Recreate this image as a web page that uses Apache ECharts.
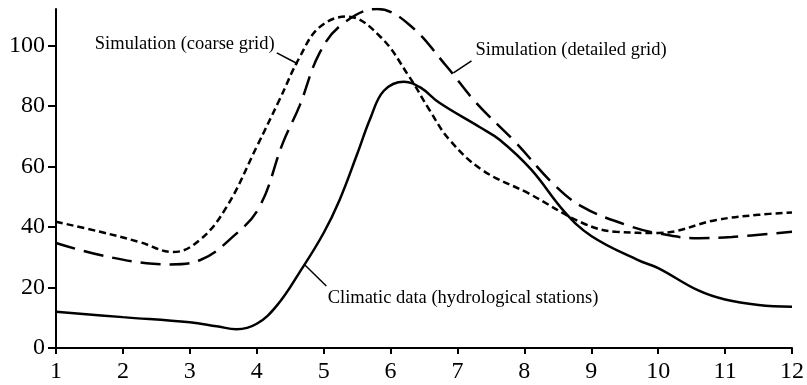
<!DOCTYPE html>
<html>
<head>
<meta charset="utf-8">
<script src="https://cdn.jsdelivr.net/npm/echarts@6/dist/echarts.min.js"></script>
<style>
  html, body { margin: 0; padding: 0; background: #fff; }
  #chart { width: 807px; height: 385px; }
</style>
</head>
<body>
<div id="chart"></div>
<script>
// tick values
const xTicks = [1, 2, 3, 4, 5, 6, 7, 8, 9, 10, 11, 12];
const yTicks = [0, 20, 40, 60, 80, 100];

// [month, value]
const climaticData = [
  [1, 12], [2, 10.2], [3, 8.5], [3.4, 7.2], [3.7, 6.2], [4, 8], [4.3, 14],
  [4.64, 25], [5, 38], [5.24, 49], [5.5, 64], [5.7, 76], [5.9, 85], [6.2, 88],
  [6.45, 86], [6.73, 81], [7.33, 73], [7.63, 68.8], [8.1, 59], [8.6, 45], [9, 37],
  [9.7, 29], [10, 26.4], [10.6, 19], [11, 16], [11.5, 14.2], [12, 13.6]
];
const coarseData = [
  [1, 41.7], [1.66, 38.4], [2.25, 35], [2.75, 31.7], [3.15, 35.7], [3.55, 46.6],
  [4, 66.5], [4.34, 82], [4.64, 96], [4.94, 106], [5.35, 109.5], [5.84, 103],
  [6.28, 89.6], [6.58, 78.7], [6.88, 68.8], [7.37, 58.8], [8.07, 51], [8.87, 41.3],
  [9.37, 38.4], [10, 38], [10.87, 42.3], [11.5, 44], [12, 44.8]
];
const detailedData = [
  [1, 34.7], [1.66, 30.7], [2.45, 27.8], [2.7, 27.6], [3.15, 29], [3.64, 36.7],
  [4.04, 46.6], [4.39, 67.7], [4.64, 80], [4.94, 97.5], [5.28, 107], [5.8, 112],
  [6.28, 106.8], [6.84, 93], [7.28, 81], [7.88, 67.7], [8.42, 54.5], [8.87, 46.6],
  [9.52, 40.7], [9.97, 38], [10.6, 36.3], [11.1, 36.7], [12, 38.4]
];

// labels: text anchor, leader start, leader end (data coords)
const labelNames = [
  "Simulation (coarse grid)",
  "Simulation (detailed grid)",
  "Climatic data (hydrological stations)"
];
const labelAt = [[1.58, 100.5], [7.27, 98.5], [5.06, 16.5]];
const leaderFrom = [[4.30, 97.5], [7.21, 94.9], [5.04, 20.5]];
const leaderTo = [[4.61, 93.9], [6.94, 90.9], [4.72, 27.4]];

const font = "'Liberation Serif', 'Times New Roman', serif";
const chart = echarts.init(document.getElementById("chart"));

const option = {
  animation: false,
  backgroundColor: "#fff",
  grid: { left: 56, right: 14, top: 9, bottom: 37 },
  xAxis: {
    type: "value",
    min: 1,
    max: 12,
    interval: 1,
    splitLine: { show: false },
    axisLine: { lineStyle: { color: "#000", width: 2 } },
    axisTick: { length: 6, lineStyle: { color: "#000", width: 2 } },
    axisLabel: {
      color: "#000", fontFamily: font, fontSize: 24, margin: 12,
      customValues: xTicks
    }
  },
  yAxis: {
    type: "value",
    min: 0,
    max: 112,
    interval: 20,
    splitLine: { show: false },
    axisLine: { show: true, lineStyle: { color: "#000", width: 2 } },
    axisTick: {
      show: true, length: 8, lineStyle: { color: "#000", width: 2 },
      customValues: yTicks
    },
    axisLabel: {
      color: "#000", fontFamily: font, fontSize: 24, margin: 11,
      customValues: yTicks
    }
  },
  series: [
    {
      name: "Climatic data", type: "line", data: climaticData,
      smooth: 0.4, symbol: "none",
      lineStyle: { color: "#000", width: 2.5 }
    },
    {
      name: "Coarse grid", type: "line", data: coarseData,
      smooth: 0.4, symbol: "none",
      lineStyle: { color: "#000", width: 2.5, type: [7, 4] }
    },
    {
      name: "Detailed grid", type: "line", data: detailedData,
      smooth: 0.4, symbol: "none",
      lineStyle: { color: "#000", width: 2.5, type: [20, 9] }
    }
  ]
};
chart.setOption(option);

// annotations placed through the grid's coordinate system
const toPx = p => chart.convertToPixel({ gridIndex: 0 }, p);
const graphic = [];
labelNames.forEach((name, i) => {
  const t = toPx(labelAt[i]);
  const a = toPx(leaderFrom[i]);
  const b = toPx(leaderTo[i]);
  graphic.push({
    type: "text", x: t[0], y: t[1],
    style: { text: name, fill: "#000", font: "18.5px " + font, textVerticalAlign: "middle" }
  });
  graphic.push({
    type: "line",
    shape: { x1: a[0], y1: a[1], x2: b[0], y2: b[1] },
    style: { stroke: "#000", lineWidth: 1.5 }
  });
});
chart.setOption({ graphic: graphic });
</script>
</body>
</html>
